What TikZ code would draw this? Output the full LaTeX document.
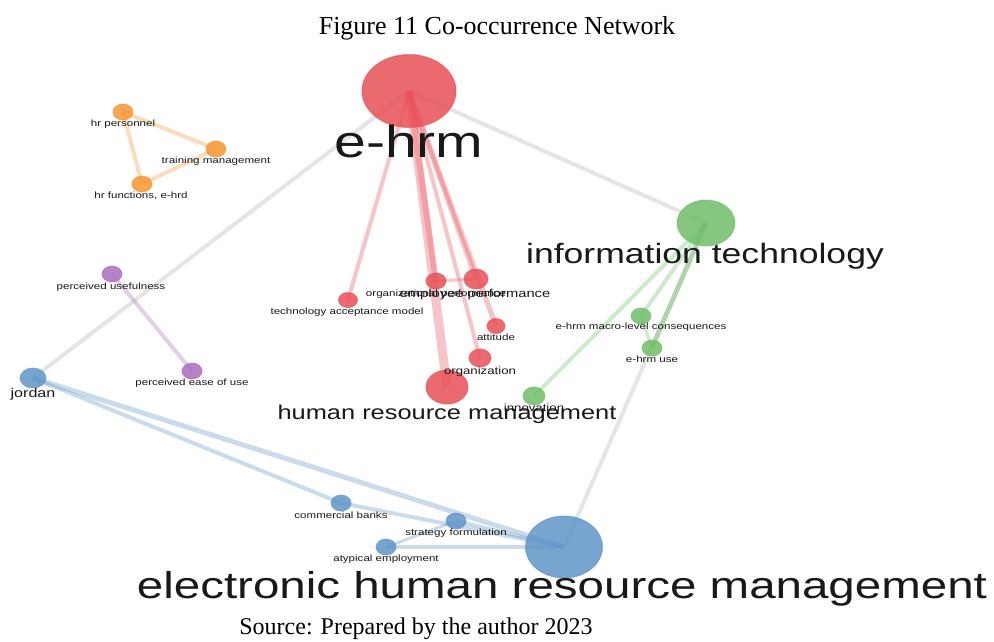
\documentclass[tikz,border=0pt]{standalone}
\usepackage{fontspec}
\setmainfont{Liberation Serif}
\newfontfamily\vosfont{Liberation Sans}
\usetikzlibrary{shapes.geometric,backgrounds}
\definecolor{vred}{RGB}{232,80,88}
\definecolor{vblue}{RGB}{96,150,200}
\definecolor{vgreen}{RGB}{112,190,105}
\definecolor{vorange}{RGB}{247,150,50}
\definecolor{vpurple}{RGB}{170,110,190}
\tikzset{
  kw/.style={ellipse, inner sep=0pt, line width=1pt, fill opacity=0.85, draw opacity=0.6},
  redkw/.style={kw, fill=vred, draw=vred},
  bluekw/.style={kw, fill=vblue, draw=vblue},
  greenkw/.style={kw, fill=vgreen, draw=vgreen},
  orangekw/.style={kw, fill=vorange, draw=vorange},
  purplekw/.style={kw, fill=vpurple, draw=vpurple},
  dot/.style={minimum width=20pt, minimum height=16pt},
  lbl/.style={anchor=base, inner sep=0pt, text=black!90, xscale=1.27},
  small/.style={lbl, font=\vosfont\fontsize{9.1}{10}\selectfont},
  link/.style={line width=4pt, draw opacity=0.33},
  graylink/.style={line width=4pt, draw=black!10}
}
\begin{document}
\begin{tikzpicture}[x=1pt,y=-1pt]
\useasboundingbox (0,0) rectangle (994,641);
% captions
\node[anchor=base, inner sep=0pt, font=\fontsize{26}{28}\selectfont] (title) at (497,34) {Figure 11 Co-occurrence Network};
\node[anchor=base, inner sep=0pt, font=\fontsize{24}{26}\selectfont] (source) at (416,634) {Source: Prepared by the author 2023};

% red cluster
\node[redkw, minimum width=94pt, minimum height=73pt] (ehrm) at (409,91) {};
\node[redkw, minimum width=42pt, minimum height=34pt] (hrm) at (447,387) {};
\node[redkw, minimum width=24pt, minimum height=20pt] (empperf) at (476,279) {};
\node[redkw, dot] (orgperf) at (436,281) {};
\node[redkw, minimum width=19pt, minimum height=15pt] (tam) at (348,300) {};
\node[redkw, minimum width=18pt, minimum height=15pt] (attitude) at (496,326) {};
\node[redkw, minimum width=22pt, minimum height=18pt] (organization) at (480,358) {};

% green cluster
\node[greenkw, minimum width=58pt, minimum height=46pt] (infotech) at (706,223) {};
\node[greenkw, minimum width=22pt, minimum height=18pt] (innovation) at (534,396) {};
\node[greenkw, dot] (macro) at (641,316) {};
\node[greenkw, dot] (ehrmuse) at (652,348) {};

% blue cluster
\node[bluekw, minimum width=77pt, minimum height=62pt] (ehrmgt) at (564,547) {};
\node[bluekw, minimum width=26pt, minimum height=20pt] (jordan) at (33,378) {};
\node[bluekw, dot] (banks) at (341,503) {};
\node[bluekw, dot] (strategy) at (456,521) {};
\node[bluekw, dot] (atypical) at (386,547) {};

% orange cluster
\node[orangekw, dot] (hrpers) at (123,112) {};
\node[orangekw, dot] (training) at (216,149) {};
\node[orangekw, dot] (hrfunc) at (142,184) {};

% purple cluster
\node[purplekw, dot] (useful) at (112,274) {};
\node[purplekw, dot] (ease) at (192,371) {};

% links
\begin{scope}[on background layer]
  \fill[white] (0,0) rectangle (994,641);
  \draw[graylink] (ehrm.center) -- (infotech.center);
  \draw[graylink] (ehrm.center) -- (jordan.center);
  \draw[graylink] (infotech.center) -- (ehrmgt.center);

  \draw[link, draw=vred, line width=9pt] (ehrm.center) -- (hrm.center);
  \draw[link, draw=vred, line width=6pt] (ehrm.center) -- (orgperf.center);
  \draw[link, draw=vred, line width=5pt] (ehrm.center) -- (empperf.center);
  \draw[link, draw=vred, line width=5pt] (ehrm.center) -- (attitude.center);
  \draw[link, draw=vred] (ehrm.center) -- (organization.center);
  \draw[link, draw=vred] (ehrm.center) -- (tam.center);
  \draw[link, draw=vred, line width=3pt] (orgperf.center) -- (empperf.center);

  \draw[link, draw=vgreen] (infotech.center) -- (innovation.center);
  \draw[link, draw=vgreen] (infotech.center) -- (macro.center);
  \draw[link, draw=vgreen, line width=5pt, draw opacity=0.45] (infotech.center) -- (ehrmuse.center);
  \draw[link, draw=vgreen, line width=3pt] (macro.center) -- (ehrmuse.center);

  \draw[link, draw=vblue, line width=5pt] (jordan.center) -- (ehrmgt.center);
  \draw[link, draw=vblue] (jordan.center) -- (banks.center);
  \draw[link, draw=vblue] (banks.center) -- (ehrmgt.center);
  \draw[link, draw=vblue] (strategy.center) -- (ehrmgt.center);
  \draw[link, draw=vblue] (atypical.center) -- (ehrmgt.center);
  \draw[link, draw=vblue, line width=3pt] (atypical.center) -- (strategy.center);

  \draw[link, draw=vorange] (hrpers.center) -- (training.center);
  \draw[link, draw=vorange] (hrpers.center) -- (hrfunc.center);
  \draw[link, draw=vorange] (hrfunc.center) -- (training.center);

  \draw[link, draw=vpurple] (useful.center) -- (ease.center);
\end{scope}

% labels
\node[lbl, font=\vosfont\fontsize{45}{50}\selectfont] (ehrmlbl) at (409,157) {e-hrm};
\node[lbl, font=\vosfont\fontsize{28}{32}\selectfont] (infotechlbl) at (705,263) {information technology};
\node[lbl, font=\vosfont\fontsize{20}{24}\selectfont] (hrmlbl) at (447,419) {human resource management};
\node[lbl, font=\vosfont\fontsize{37.4}{42}\selectfont] (ehrmgtlbl) at (562,598) {electronic human resource management};
\node[small] (orgperflbl) at (436,296) {organizational performance};
\node[lbl, font=\vosfont\fontsize{11.6}{13}\selectfont] (empperflbl) at (475,297) {employee performance};
\node[small] (tamlbl) at (347,314) {technology acceptance model};
\node[small] (attitudelbl) at (496,340) {attitude};
\node[lbl, font=\vosfont\fontsize{10.4}{12}\selectfont] (organizationlbl) at (480,374) {organization};
\node[lbl, font=\vosfont\fontsize{10.4}{12}\selectfont] (innovationlbl) at (534,411) {innovation};
\node[small] (macrolbl) at (641,329) {e-hrm macro-level consequences};
\node[small] (ehrmuselbl) at (652,362) {e-hrm use};
\node[lbl, font=\vosfont\fontsize{12.7}{14}\selectfont] (jordanlbl) at (33,397) {jordan};
\node[small] (bankslbl) at (341,518) {commercial banks};
\node[small] (strategylbl) at (456,535) {strategy formulation};
\node[small] (atypicallbl) at (386,561) {atypical employment};
\node[small] (hrperslbl) at (123,126) {hr personnel};
\node[small] (traininglbl) at (216,163) {training management};
\node[small] (hrfunclbl) at (141,198) {hr functions, e-hrd};
\node[small] (usefullbl) at (111,289) {perceived usefulness};
\node[small] (easelbl) at (192,385) {perceived ease of use};
\end{tikzpicture}
\end{document}
